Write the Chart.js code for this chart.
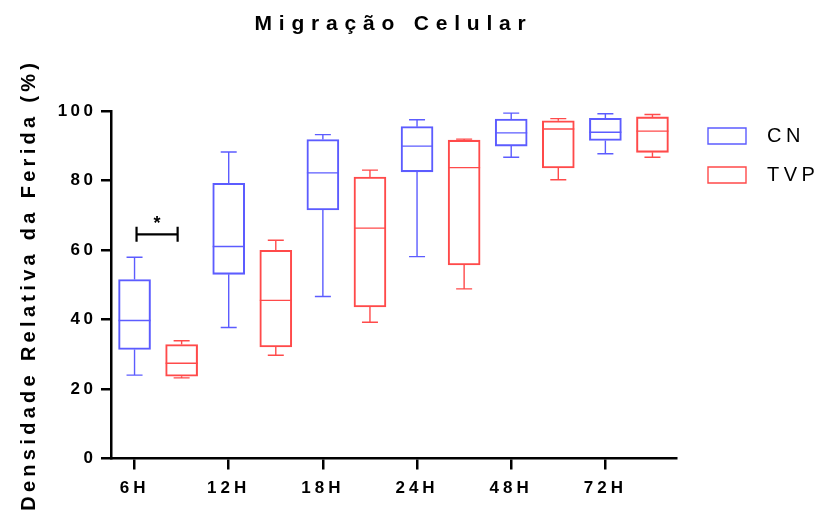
<!DOCTYPE html>
<html><head><meta charset="utf-8">
<script src="https://cdn.jsdelivr.net/npm/chart.js@4/dist/chart.umd.min.js"></script>
<style>html,body{margin:0;padding:0;background:#fff}</style>
</head><body>
<canvas id="c" width="816" height="512"></canvas>
<script>
// ---- data ----
const categories = ['6H', '12H', '18H', '24H', '48H', '72H'];
const seriesNames = ['CN', 'TVP'];
const cnMin    = [24.0, 37.7, 46.6, 58.1, 86.7, 87.7];
const cnQ1     = [31.4, 53.0, 71.5, 82.5, 89.9, 91.5];
const cnMedian = [39.7, 61.0, 82.2, 89.9, 93.7, 93.9];
const cnQ3     = [51.5, 79.2, 91.8, 95.5, 97.7, 97.9];
const cnMax    = [57.9, 88.2, 93.2, 97.5, 99.4, 99.2];
const tvpMin    = [23.2, 29.7, 39.2, 48.8, 80.2, 86.7];
const tvpQ1     = [23.7, 32.1, 43.6, 55.7, 83.6, 88.1];
const tvpMedian = [27.4, 45.5, 66.3, 83.7, 94.8, 94.2];
const tvpQ3     = [32.8, 59.9, 81.0, 91.6, 97.2, 98.3];
const tvpMax    = [33.9, 62.8, 83.0, 91.9, 97.8, 99.0];
const yTicks = [0, 20, 40, 60, 80, 100];
const significance = [{ category: '6H', y: 64.5, text: '*' }];

// ---- styling / layout ----
const FONT = "'Liberation Sans', Arial, sans-serif";
const colors = ['#5c5cff', '#ff4a4a'];
const slot = [0.25, 0.75];           // position of each series inside a category
const stats = [
  { min: cnMin, q1: cnQ1, med: cnMedian, q3: cnQ3, max: cnMax },
  { min: tvpMin, q1: tvpQ1, med: tvpMedian, q3: tvpQ3, max: tvpMax }
];

const datasets = stats.map((s, di) => ({
  label: seriesNames[di],
  data: categories.map((c, i) => ({ x: i + slot[di], y: [s.q1[i], s.q3[i]] })),
  backgroundColor: 'rgba(255,255,255,0)',
  borderColor: colors[di],
  borderWidth: 1.4,
  borderSkipped: false,
  barThickness: 32,
  grouped: false
}));

function withSpacing(ctx, sp, fn, opt) {
  ctx.save();
  ctx.letterSpacing = sp + 'px';
  if (opt && opt.translate) ctx.translate(opt.translate[0], opt.translate[1]);
  let origFill = null;
  if (opt && opt.shiftText) {
    origFill = ctx.fillText;
    const dx = opt.shiftText;
    ctx.fillText = function (t, x, y, m) { return m === undefined ? origFill.call(ctx, t, x + dx, y) : origFill.call(ctx, t, x + dx, y, m); };
  }
  try { fn(); } finally {
    if (origFill) ctx.fillText = origFill;
    ctx.restore();
  }
}

const LEGEND_WIDTH = 140;
const spacingPlugin = {
  id: 'spacing',
  beforeLayout(chart) {
    if (chart.$spaced) return;
    chart.$spaced = true;
    const ctx = chart.ctx;
    const tb = chart.titleBlock;
    if (tb) { const d = tb.draw.bind(tb); tb.draw = a => withSpacing(ctx, 6.8, () => d(a)); }
    const lg = chart.legend;
    if (lg) {
      const f = lg.fit.bind(lg);
      lg.fit = function () { f(); this.width = LEGEND_WIDTH; };
      const d = lg.draw.bind(lg);
      lg.draw = a => withSpacing(ctx, 4.5, () => d(a), { translate: [13, 107], shiftText: 11 });
    }
    const s = chart.scales;
    const dlx = s.x.drawLabels.bind(s.x); s.x.drawLabels = a => withSpacing(ctx, 4, () => dlx(a));
    const dly = s.y.drawLabels.bind(s.y); s.y.drawLabels = a => withSpacing(ctx, 3.5, () => dly(a));
    const dty = s.y.drawTitle.bind(s.y); s.y.drawTitle = a => withSpacing(ctx, 4.3, () => dty(a));
  }
};

const boxPlugin = {
  id: 'boxWhiskers',
  afterDatasetsDraw(chart) {
    const ctx = chart.ctx, xs = chart.scales.x, ys = chart.scales.y;
    chart.data.datasets.forEach((ds, di) => {
      const meta = chart.getDatasetMeta(di);
      const s = stats[di];
      meta.data.forEach((bar, i) => {
        const cx = bar.x, hw = bar.width / 2, cap = bar.width / 4;
        const pMin = ys.getPixelForValue(s.min[i]);
        const pQ1 = ys.getPixelForValue(s.q1[i]);
        const pMed = ys.getPixelForValue(s.med[i]);
        const pQ3 = ys.getPixelForValue(s.q3[i]);
        const pMax = ys.getPixelForValue(s.max[i]);
        ctx.save();
        ctx.strokeStyle = ds.borderColor;
        ctx.lineWidth = ds.borderWidth;
        ctx.beginPath();
        ctx.moveTo(cx - hw, pMed); ctx.lineTo(cx + hw, pMed);
        ctx.moveTo(cx, pQ3); ctx.lineTo(cx, pMax);
        ctx.moveTo(cx - cap, pMax); ctx.lineTo(cx + cap, pMax);
        ctx.moveTo(cx, pQ1); ctx.lineTo(cx, pMin);
        ctx.moveTo(cx - cap, pMin); ctx.lineTo(cx + cap, pMin);
        ctx.stroke();
        ctx.restore();
      });
    });
    // significance bracket between the two boxes of a category
    significance.forEach(sig => {
      const k = categories.indexOf(sig.category);
      const x1 = xs.getPixelForValue(k + slot[0]) + 2;
      const x2 = xs.getPixelForValue(k + slot[1]) - 4;
      const py = ys.getPixelForValue(sig.y);
      ctx.save();
      ctx.strokeStyle = '#000';
      ctx.lineWidth = 2.2;
      ctx.beginPath();
      ctx.moveTo(x1, py); ctx.lineTo(x2, py);
      ctx.moveTo(x1, py - 7.5); ctx.lineTo(x1, py + 7.5);
      ctx.moveTo(x2, py - 7.5); ctx.lineTo(x2, py + 7.5);
      ctx.stroke();
      ctx.fillStyle = '#000';
      ctx.font = 'bold 18px ' + FONT;
      ctx.textAlign = 'center';
      ctx.textBaseline = 'alphabetic';
      ctx.fillText(sig.text, (x1 + x2) / 2, py - 5);
      ctx.restore();
    });
  }
};

new Chart(document.getElementById('c'), {
  type: 'bar',
  data: { datasets },
  plugins: [spacingPlugin, boxPlugin],
  options: {
    responsive: false,
    animation: false,
    events: [],
    layout: { padding: 0 },
    plugins: {
      tooltip: { enabled: false },
      title: {
        display: true,
        text: 'Migração Celular',
        color: '#000',
        font: { family: FONT, size: 21, weight: 'bold' },
        padding: { top: 11.5, bottom: 74.3 },
        fullSize: false
      },
      legend: {
        position: 'right',
        align: 'start',
        labels: {
          boxWidth: 38,
          boxHeight: 16,
          color: '#000',
          padding: 19,
          font: { family: FONT, size: 20 },
          generateLabels(chart) {
            return chart.data.datasets.map((ds, i) => ({
              text: ds.label, fillStyle: 'rgba(255,255,255,0)', strokeStyle: ds.borderColor,
              lineWidth: 1.4, datasetIndex: i, fontColor: '#000'
            }));
          }
        }
      }
    },
    scales: {
      x: {
        type: 'linear',
        min: 0,
        max: categories.length,
        offset: false,
        afterBuildTicks(scale) { scale.ticks = categories.map((c, i) => ({ value: i + slot[0] })); },
        afterFit(scale) { scale.height = 53.5; },
        ticks: {
          color: '#000',
          font: { family: FONT, size: 17, weight: 'bold' },
          padding: 9,
          maxRotation: 0,
          autoSkip: false,
          callback(v, i) { return categories[i]; }
        },
        grid: { offset: false, drawOnChartArea: false, drawTicks: true, tickLength: 11, color: '#000', lineWidth: 2.5 },
        border: { display: true, color: '#000', width: 2.5 }
      },
      y: {
        min: 0,
        max: 100,
        afterBuildTicks(scale) { scale.ticks = yTicks.map(v => ({ value: v })); },
        afterFit(scale) { scale.width = 111; },
        ticks: {
          color: '#000',
          font: { family: FONT, size: 17, weight: 'bold' },
          padding: 4.5
        },
        grid: { drawOnChartArea: false, drawTicks: true, tickLength: 10, color: '#000', lineWidth: 2.5 },
        border: { display: true, color: '#000', width: 2.5 },
        title: {
          display: true,
          text: 'Densidade Relativa da Ferida (%)',
          color: '#000',
          font: { family: FONT, size: 20, weight: 'bold' },
          padding: { top: 17, bottom: 0 }
        }
      }
    }
  }
});
</script>
</body></html>
